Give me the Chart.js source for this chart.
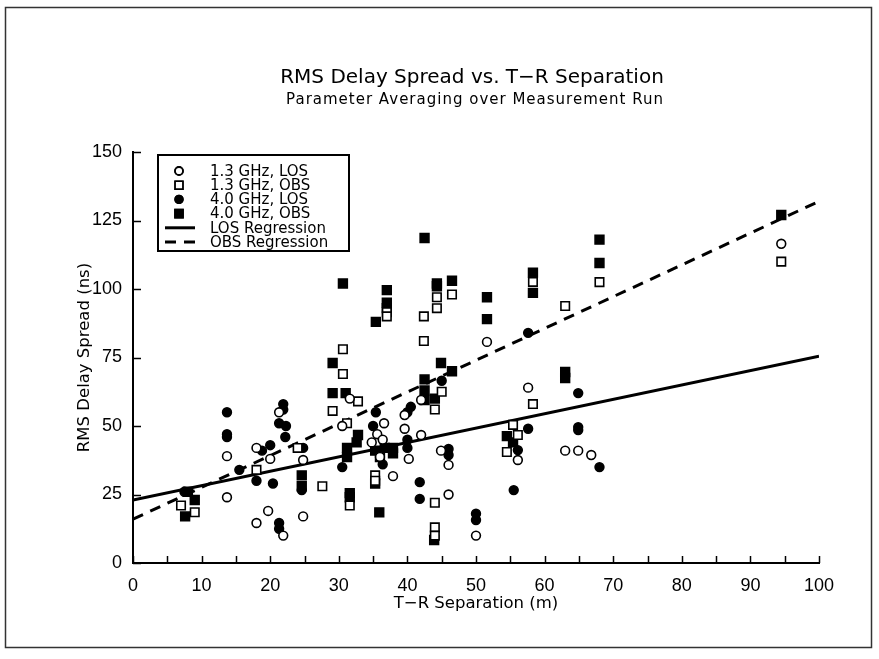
<!DOCTYPE html>
<html lang="en">
<head>
  <meta charset="UTF-8" />
  <title>RMS Delay Spread vs. T-R Separation</title>
  <script src="https://cdn.jsdelivr.net/npm/chart.js"></script>
  <style>
    html, body { margin: 0; padding: 0; background: #fff; }
    canvas { display: block; }
  </style>
</head>
<body>
  <canvas id="delayChart" width="879" height="659"></canvas>

  <script>
    // values: [T-R separation (m), RMS delay spread (ns)]
    const los13 = [
      [13.7, 39], [13.7, 24], [18, 42], [18, 14.6], [20, 38], [19.7, 19],
      [21.3, 55], [21.9, 10], [24.8, 37.6], [24.8, 17], [30.5, 50], [31.6, 60],
      [34.8, 44], [35.6, 47], [36.4, 45], [36.6, 51], [36, 38.7], [37.9, 31.7],
      [39.6, 54], [39.6, 49], [40.2, 38], [42, 59.5], [42, 46.7], [44.9, 41],
      [46, 35.8], [46, 25], [50, 10], [51.6, 80.7], [56.1, 37.6], [57.6, 64],
      [63, 41], [64.9, 41], [66.8, 39.4], [94.5, 116.5]
    ];
    const obs13 = [
      [7, 21], [9, 18.5], [18, 34], [24, 42], [27.6, 28], [29.1, 55.5],
      [30.6, 78], [30.6, 69], [31.2, 51], [31.6, 21], [32.8, 59], [35.3, 32],
      [35.3, 30], [37, 91.5], [37, 90], [42.4, 90], [42.4, 81], [44, 22],
      [44, 13], [44, 10], [44, 56], [44.3, 97], [44.3, 93], [45, 62.5],
      [46.5, 98], [54.5, 40.5], [55.4, 50.4], [56.1, 46.7], [58.3, 58],
      [58.3, 102.6], [63, 93.8], [68, 102.5], [94.5, 110]
    ];
    const los40 = [
      [7.5, 26], [13.7, 55], [13.7, 47], [13.7, 46], [15.5, 34], [18.8, 41],
      [18, 30], [20, 43], [20.4, 29], [21.9, 58], [21.9, 56], [21.3, 51],
      [22.3, 50], [22.2, 46], [21.3, 14.6], [21.3, 12.5], [24.8, 42], [24.6, 26.6],
      [30.5, 35], [35.4, 55], [35, 50], [36.4, 36], [40, 55], [40, 45], [40, 42],
      [40.5, 57], [41.8, 29.5], [41.8, 23.4], [45, 66.5], [46, 41.6], [46, 39.4],
      [50, 18], [50, 15.7], [55.5, 26.6], [56.1, 41.2], [57.6, 49], [57.6, 84],
      [64.9, 62], [64.9, 49.6], [64.9, 48.5], [68, 35]
    ];
    const obs40 = [
      [7.6, 17], [8, 26], [9, 23], [24.6, 32], [24.6, 28], [29.1, 73], [29.1, 62],
      [30.6, 102], [31, 62], [31.2, 42], [32.6, 44], [32.8, 46.7], [31.2, 38.7],
      [31.6, 25.5], [31.6, 24], [35.4, 88], [35.3, 41], [36, 38.7], [36.7, 42],
      [35.3, 29], [35.9, 18.5], [37, 99.6], [37, 95], [37, 93], [37.9, 42],
      [37.9, 40], [42.5, 118.6], [42.5, 67], [42.5, 63], [42.5, 59.5], [43.9, 8.4],
      [44, 60], [44.3, 102], [44.3, 101], [44.9, 73], [46.5, 103], [46.5, 70],
      [51.6, 97], [51.6, 89], [54.5, 46.3], [55.4, 44], [58.3, 106], [58.3, 98.6],
      [63, 69.7], [63, 67.5], [68, 118], [68, 109.5], [94.5, 127]
    ];
    // regression line end points
    const losRegression = [[0, 23], [100, 75.5]];
    const obsRegression = [[0, 16], [100, 132]];

    const xTicks = [0, 10, 20, 30, 40, 50, 60, 70, 80, 90, 100];
    const yTicks = [0, 25, 50, 75, 100, 125, 150];

    const titleText = 'RMS Delay Spread vs. T\u2212R Separation';
    const subtitleText = 'Parameter Averaging over Measurement Run';

    const FONT = "'Liberation Sans', Arial, sans-serif";
    const WIDE = "'DejaVu Sans', sans-serif";
    const toXY = arr => arr.map(([x, y]) => ({ x, y }));

    // white page, frame round the figure, two title lines
    const framePlugin = {
      id: 'frame',
      beforeDraw(chart) {
        const ctx = chart.ctx;
        ctx.save();
        ctx.fillStyle = '#fff';
        ctx.fillRect(0, 0, chart.width, chart.height);
        ctx.strokeStyle = '#333';
        ctx.lineWidth = 1.5;
        ctx.strokeRect(5.5, 7.5, 866, 640);

        ctx.fillStyle = '#000';
        ctx.textAlign = 'center';
        ctx.textBaseline = 'middle';
        ctx.font = '20px ' + WIDE;
        ctx.fillText(titleText, 472, 78);
        ctx.font = '15px ' + WIDE;
        ctx.letterSpacing = '1px';
        ctx.fillText(subtitleText, 475, 100);
        ctx.restore();
      }
    };

    // inward tick marks
    const ticksPlugin = {
      id: 'inTicks',
      afterDraw(chart) {
        const { ctx, chartArea, scales } = chart;
        ctx.save();
        ctx.strokeStyle = '#000';
        ctx.lineWidth = 1.5;
        ctx.beginPath();
        for (let v = 0; v <= 100; v += 5) {
          const px = Math.round(scales.x.getPixelForValue(v)) + 0.5;
          ctx.moveTo(px, chartArea.bottom);
          ctx.lineTo(px, chartArea.bottom - 7);
        }
        yTicks.forEach(v => {
          const py = Math.round(scales.y.getPixelForValue(v)) + 0.5;
          ctx.moveTo(chartArea.left, py);
          ctx.lineTo(chartArea.left + 8, py);
        });
        ctx.stroke();
        ctx.restore();
      }
    };

    // boxed legend inside the plot, top left
    const legendBox = {
      id: 'legendBox',
      afterDraw(chart) {
        const ctx = chart.ctx;
        const left = 158, top = 155, w = 191, h = 96;
        const rowH = 14.2, firstRow = 171;
        ctx.save();
        ctx.fillStyle = '#fff';
        ctx.fillRect(left, top, w, h);
        ctx.strokeStyle = '#000';
        ctx.lineWidth = 2;
        ctx.strokeRect(left, top, w, h);
        ctx.font = '15px ' + WIDE;
        ctx.fillStyle = '#000';
        ctx.textBaseline = 'middle';
        chart.data.datasets.forEach((ds, i) => {
          const y = firstRow + i * rowH;
          if (ds.showLine) {
            ctx.beginPath();
            ctx.lineWidth = 3;
            ctx.setLineDash(ds.borderDash || []);
            ctx.moveTo(165, y);
            ctx.lineTo(195, y);
            ctx.stroke();
            ctx.setLineDash([]);
          } else {
            Chart.helpers.drawPoint(ctx, {
              pointStyle: ds.pointStyle,
              radius: ds.pointRadius - 0.5,
              borderWidth: ds.borderWidth,
              rotation: 0
            }, 179, y);
            ctx.fillStyle = ds.backgroundColor;
            ctx.strokeStyle = ds.borderColor;
            ctx.lineWidth = ds.borderWidth;
            ctx.fill();
            ctx.stroke();
            ctx.fillStyle = '#000';
            ctx.strokeStyle = '#000';
          }
          ctx.fillText(ds.label, 210, y + 1);
        });
        ctx.restore();
      }
    };

    const scatterSet = (label, data, style, filled, radius) => ({
      label,
      data: toXY(data),
      showLine: false,
      pointStyle: style,
      pointRadius: radius,
      backgroundColor: filled ? '#000' : '#fff',
      borderColor: '#000',
      borderWidth: 1.6
    });

    new Chart(document.getElementById('delayChart'), {
      type: 'scatter',
      data: {
        datasets: [
          scatterSet('1.3 GHz, LOS', los13, 'circle', false, 4.4),
          scatterSet('1.3 GHz, OBS', obs13, 'rect', false, 6),
          scatterSet('4.0 GHz, LOS', los40, 'circle', true, 4.4),
          scatterSet('4.0 GHz, OBS', obs40, 'rect', true, 6.2),
          {
            label: 'LOS Regression',
            data: toXY(losRegression),
            showLine: true,
            pointRadius: 0,
            borderColor: '#000',
            borderWidth: 3
          },
          {
            label: 'OBS Regression',
            data: toXY(obsRegression),
            showLine: true,
            pointRadius: 0,
            borderColor: '#000',
            borderWidth: 3,
            borderDash: [11, 8]
          }
        ]
      },
      options: {
        responsive: false,
        animation: false,
        layout: { padding: { left: 0, right: 60, top: 152, bottom: 36 } },
        plugins: {
          legend: { display: false },
          tooltip: { enabled: false },
          title: { display: false }
        },
        scales: {
          x: {
            type: 'linear',
            min: 0,
            max: 100,
            afterFit: s => { s.height = 60; },
            afterBuildTicks: s => { s.ticks = xTicks.map(v => ({ value: v })); },
            grid: { drawOnChartArea: false, drawTicks: false },
            border: { display: true, color: '#000', width: 2 },
            ticks: { color: '#000', padding: 12, font: { family: FONT, size: 18 } },
            title: {
              display: true,
              text: 'T\u2212R Separation (m)',
              color: '#000',
              font: { family: WIDE, size: 16.5 },
              padding: { top: 0, bottom: 9 }
            }
          },
          y: {
            type: 'linear',
            min: 0,
            max: 150,
            afterFit: s => { s.width = 133; },
            afterBuildTicks: s => { s.ticks = yTicks.map(v => ({ value: v })); },
            grid: { drawOnChartArea: false, drawTicks: false },
            border: { display: true, color: '#000', width: 2 },
            ticks: { color: '#000', padding: 11, font: { family: FONT, size: 18 } },
            title: {
              display: true,
              text: 'RMS Delay Spread (ns)',
              color: '#000',
              font: { family: WIDE, size: 16.5 },
              padding: { top: 75, bottom: 0 }
            }
          }
        }
      },
      plugins: [framePlugin, ticksPlugin, legendBox]
    });
  </script>
</body>
</html>
